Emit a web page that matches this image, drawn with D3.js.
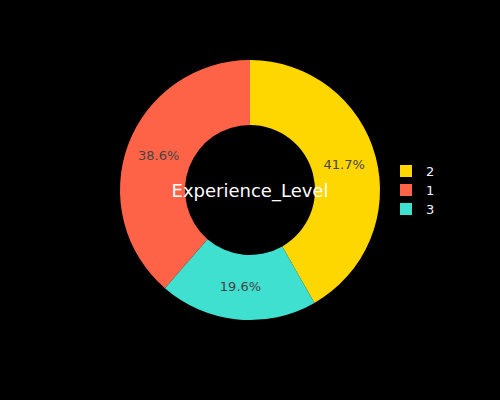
<!DOCTYPE html>
<html><head><meta charset="utf-8">
<script src="https://cdn.jsdelivr.net/npm/d3@7"></script>
<style>html,body{margin:0;padding:0;background:#000;}</style>
</head><body>
<div id="chart"></div>
<script>
// Data (slice order as drawn clockwise from top)
const labels = ["2", "3", "1"];
const values = [41.7, 19.6, 38.6];
const colors = ["#FFD700", "#40E0D0", "#FF6347"];
const legendOrder = ["2", "1", "3"];
const title = "Experience_Level";

const W = 500, H = 400, cx = 250, cy = 190, rOuter = 130, rInner = 65;
const svg = d3.select("#chart").append("svg").attr("width", W).attr("height", H)
  .style("background", "#000");
const color = d3.scaleOrdinal().domain(labels).range(colors);
const data = labels.map((l, i) => ({label: l, value: values[i]}));
const total = d3.sum(values);
const pie = d3.pie().value(d => d.value).sort(null);
const arc = d3.arc().innerRadius(rInner).outerRadius(rOuter);
const arcs = pie(data);
const g = svg.append("g").attr("transform", `translate(${cx},${cy})`);
g.selectAll("path").data(arcs).join("path")
  .attr("d", arc).attr("fill", d => color(d.data.label));
const mid = d3.arc().innerRadius((rInner + rOuter) / 2).outerRadius((rInner + rOuter) / 2);
g.selectAll("text.pct").data(arcs).join("text").attr("class", "pct")
  .attr("transform", d => `translate(${mid.centroid(d)})`)
  .attr("text-anchor", "middle").attr("dy", "0.3em")
  .attr("font-family", "DejaVu Sans, sans-serif").attr("font-size", 13)
  .attr("fill", "#444")
  .text(d => (d.data.value / total * 100).toFixed(1) + "%");
g.append("text").attr("text-anchor", "middle").attr("y", 7)
  .attr("font-family", "DejaVu Sans, sans-serif").attr("font-size", 18)
  .attr("fill", "#fff").text(title);

const leg = svg.append("g").attr("transform", "translate(400,171)");
const items = leg.selectAll("g").data(legendOrder).join("g")
  .attr("transform", (d, i) => `translate(0,${i * 19})`);
items.append("rect").attr("x", 0).attr("y", -6).attr("width", 12).attr("height", 12)
  .attr("fill", d => color(d));
items.append("text").attr("x", 26).attr("dy", "0.35em")
  .attr("font-family", "DejaVu Sans, sans-serif").attr("font-size", 13)
  .attr("fill", "#f2f5fa").text(d => d);
</script>
</body></html>
